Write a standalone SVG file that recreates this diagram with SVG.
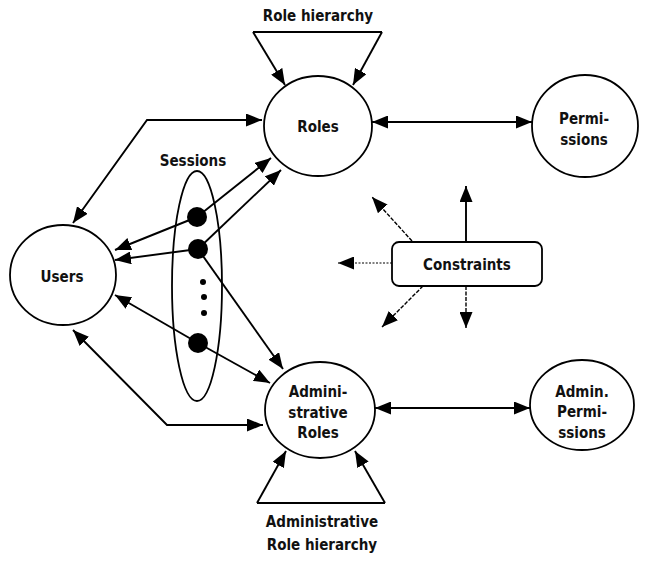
<svg xmlns="http://www.w3.org/2000/svg" width="650" height="563" viewBox="0 0 650 563">
  <style>
    .node { fill: #fff; stroke: #000; stroke-width: 1.8; }
    .lbl { font-family: "DejaVu Sans Condensed", "DejaVu Sans", Verdana, sans-serif; font-stretch: condensed; font-weight: bold; font-size: 15px; fill: #111; text-anchor: middle; }
    .wire { fill: none; stroke: #000; stroke-width: 1.9; }
    .thin { fill: none; stroke: #000; stroke-width: 1.4; stroke-dasharray: 4 1.5; }
    .faint { fill: none; stroke: #000; stroke-width: 1; stroke-dasharray: 2 1.5; }
  </style>
  <defs>
    <marker id="arr" markerUnits="userSpaceOnUse" markerWidth="16" markerHeight="13" viewBox="0 0 16 13" refX="16" refY="6.5" orient="auto-start-reverse">
      <path d="M0,0 L16,6.5 L0,13 z" fill="#000"/>
    </marker>
  </defs>

  <rect width="650" height="563" fill="#fff"/>

  <!-- connectors -->
  <g id="connectors">
    <!-- role hierarchy loops -->
    <path class="wire" d="M253,32 H382"/>
    <path class="wire" d="M253,32 L285,85" marker-end="url(#arr)"/>
    <path class="wire" d="M382,32 L353,85" marker-end="url(#arr)"/>
    <path class="wire" d="M257,503 H385"/>
    <path class="wire" d="M257,503 L286,451" marker-end="url(#arr)"/>
    <path class="wire" d="M385,503 L355,451" marker-end="url(#arr)"/>

    <!-- assignments -->
    <path class="wire" d="M372,122 H532" marker-start="url(#arr)" marker-end="url(#arr)"/>
    <path class="wire" d="M375,408 H530" marker-start="url(#arr)" marker-end="url(#arr)"/>
    <path class="wire" d="M262,120 H147 L73,223" marker-start="url(#arr)" marker-end="url(#arr)"/>
    <path class="wire" d="M73,330 L167,425 H263" marker-start="url(#arr)" marker-end="url(#arr)"/>

    <!-- session links -->
    <path class="wire" d="M197,217 L271,158" marker-end="url(#arr)"/>
    <path class="wire" d="M197,217 L115,250" marker-end="url(#arr)"/>
    <path class="wire" d="M198,249 L281,170" marker-end="url(#arr)"/>
    <path class="wire" d="M198,249 L115,260" marker-end="url(#arr)"/>
    <path class="wire" d="M198,249 L283,369" marker-end="url(#arr)"/>
    <path class="wire" d="M198,343 L270,383" marker-end="url(#arr)"/>
    <path class="wire" d="M198,343 L115,295" marker-end="url(#arr)"/>

    <!-- constraint arrows -->
    <path class="wire" d="M466,242 V186" marker-end="url(#arr)"/>
    <path class="thin" d="M466,286 V328" marker-end="url(#arr)"/>
    <path class="thin" d="M412,241 L372,197" marker-end="url(#arr)"/>
    <path class="faint" d="M392,263 H338" marker-end="url(#arr)"/>
    <path class="thin" d="M423,286 L382,327" marker-end="url(#arr)"/>
  </g>

  <!-- hierarchy labels -->
  <g id="role-hierarchy">
    <text class="lbl" x="318" y="21">Role hierarchy</text>
  </g>
  <g id="admin-role-hierarchy">
    <text class="lbl" x="322" y="527">Administrative</text>
    <text class="lbl" x="322" y="550">Role hierarchy</text>
  </g>

  <g id="roles">
    <ellipse class="node" cx="318" cy="126" rx="54" ry="50"/>
    <text class="lbl" x="318" y="132">Roles</text>
  </g>

  <g id="permissions">
    <ellipse class="node" cx="585" cy="126" rx="53" ry="51"/>
    <text class="lbl" x="584" y="124">Permi-</text>
    <text class="lbl" x="584" y="145">ssions</text>
  </g>

  <g id="users">
    <ellipse class="node" cx="63" cy="275" rx="53" ry="50"/>
    <text class="lbl" x="62" y="282">Users</text>
  </g>

  <g id="admin-roles">
    <ellipse class="node" cx="320" cy="410" rx="55" ry="48"/>
    <text class="lbl" x="318" y="397">Admini-</text>
    <text class="lbl" x="318" y="418">strative</text>
    <text class="lbl" x="318" y="438">Roles</text>
  </g>

  <g id="admin-permissions">
    <ellipse class="node" cx="582" cy="405" rx="52" ry="45"/>
    <text class="lbl" x="582" y="397">Admin.</text>
    <text class="lbl" x="582" y="417">Permi-</text>
    <text class="lbl" x="582" y="438">ssions</text>
  </g>

  <g id="constraints">
    <rect class="node" x="392" y="242" width="150" height="44" rx="7"/>
    <text class="lbl" x="467" y="270">Constraints</text>
  </g>

  <g id="sessions">
    <text class="lbl" x="193" y="166">Sessions</text>
    <ellipse fill="none" stroke="#000" stroke-width="1.8" cx="197" cy="286" rx="25" ry="115"/>
    <circle cx="197" cy="217" r="10" fill="#000"/>
    <circle cx="198" cy="249" r="10" fill="#000"/>
    <circle cx="203" cy="282" r="3" fill="#000"/>
    <circle cx="204" cy="297" r="3" fill="#000"/>
    <circle cx="204" cy="313" r="3" fill="#000"/>
    <circle cx="198" cy="343" r="10" fill="#000"/>
  </g>
</svg>
